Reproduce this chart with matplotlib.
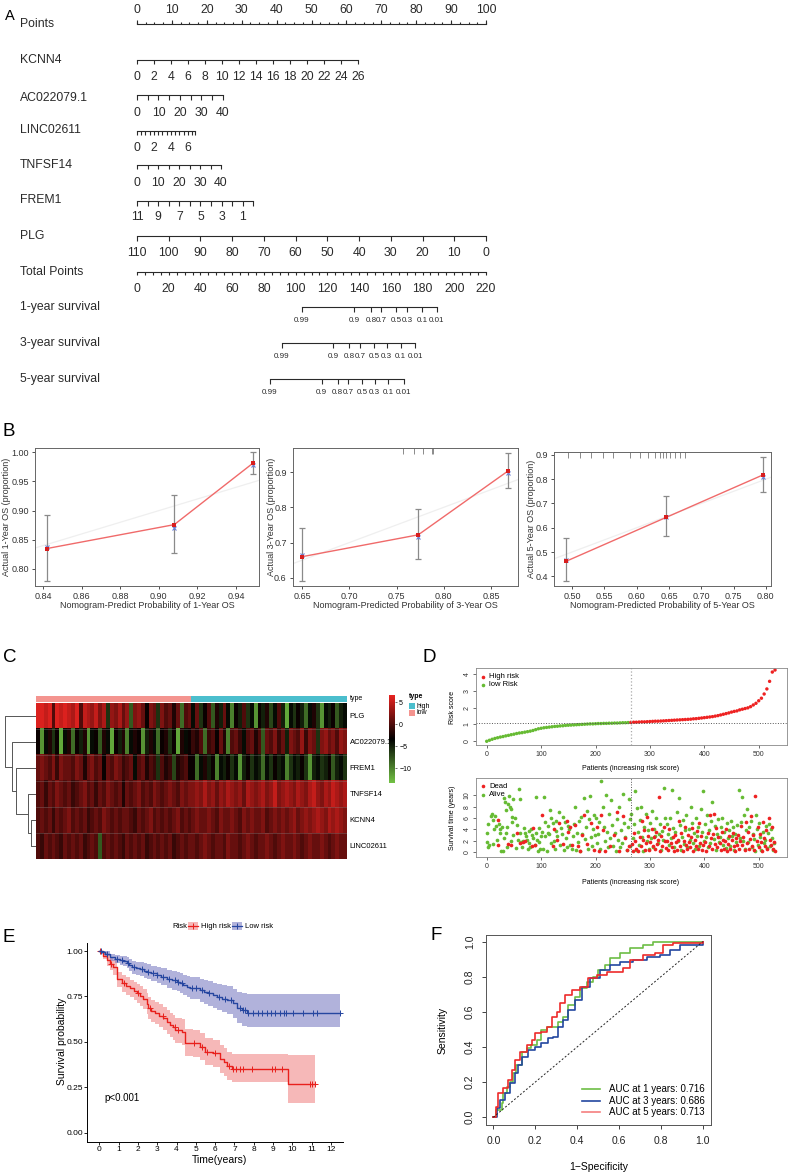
import numpy as np
import matplotlib
matplotlib.use('Agg')
import matplotlib.pyplot as plt
from matplotlib.colors import LinearSegmentedColormap, ListedColormap
from matplotlib.lines import Line2D
from matplotlib.patches import Rectangle

W, H = 788, 1176
plt.rcParams['font.family'] = ['Liberation Sans', 'DejaVu Sans']
NARROW = ['Liberation Sans Narrow', 'Liberation Sans', 'DejaVu Sans']

# ---------------- data ----------------
# A: nomogram scales (values and the points they are worth)
points_ticks = np.arange(0, 101, 2.5)
points_labels = np.arange(0, 101, 10)
kcnn4_vals = np.arange(0, 27, 2)
kcnn4_pts_per_unit = 63.3 / 26
ac022079_vals = np.arange(0, 41, 5)
ac022079_pts_per_unit = 24.6 / 40
linc02611_vals = np.append(np.arange(0, 6.6, 0.5), 6.8)
linc02611_pts_per_unit = 2.435
tnfsf14_vals = np.arange(0, 41, 5)
tnfsf14_pts_per_unit = 24.07 / 40
frem1_vals = np.arange(11, -1, -1)
frem1_pts_per_unit = 3.03
plg_vals = np.arange(110, -1, -10)
plg_pts_per_unit = 100 / 110
total_ticks = np.arange(0, 221, 5)
total_labels = np.arange(0, 221, 20)
surv_labels = ['0.99', '0.9', '0.8', '0.7', '0.5', '0.3', '0.1', '0.01']
surv1_total = [104.0, 136.8, 147.5, 153.8, 163.3, 170.2, 179.7, 189.1]
surv3_total = [91.4, 123.7, 133.8, 140.6, 149.4, 157.4, 166.2, 175.4]
surv5_total = [83.8, 116.4, 126.5, 133.2, 142.0, 149.8, 158.4, 168.3]

# B: calibration curves
cal1_pred = [0.842, 0.908, 0.949]
cal1_obs = [0.835, 0.876, 0.982]
cal1_corr = [0.838, 0.870, 0.978]
cal1_lo = [0.780, 0.827, 0.963]
cal1_hi = [0.893, 0.927, 1.000]
cal3_pred = [0.650, 0.773, 0.868]
cal3_obs = [0.660, 0.722, 0.903]
cal3_corr = [0.665, 0.716, 0.898]
cal3_lo = [0.590, 0.653, 0.855]
cal3_hi = [0.741, 0.795, 0.954]
cal3_rug = [0.757, 0.768, 0.778, 0.788, 0.789]
cal5_pred = [0.490, 0.646, 0.795]
cal5_obs = [0.461, 0.643, 0.817]
cal5_corr = [0.468, 0.645, 0.810]
cal5_lo = [0.380, 0.568, 0.746]
cal5_hi = [0.556, 0.730, 0.893]
cal5_rug = [0.494, 0.512, 0.530, 0.548, 0.564, 0.590, 0.605, 0.618, 0.628,
            0.636, 0.641, 0.646, 0.651, 0.659, 0.667, 0.675]

# C: heatmap (80 columns, first 40 low risk)
genes = ['PLG', 'AC022079.1', 'FREM1', 'TNFSF14', 'KCNN4', 'LINC02611']
sample_type = ['low'] * 40 + ['high'] * 40
expr_plg = [6, 6, 5, 6, 0, 6, 5, 6, 5, 4, 6, 0, 5, 4, 3, 5, 2, 4, -6, 3, 2, 4, 1, 3, -8, 2, 3, 1, -3, 2,
            1, -6, 2, 0, 1, -2, 1, -9, 0, 1, -4, 1, -6, -3, 0, -8, -2, -5, 1, -4, -10, -3, -5, 0, -6, -4,
            -11, -3, -5, -2, -7, -4, 0, -5, -12, -4, -6, -3, -5, -9, -4, -2, -6, -11, -4, -5, -3, -8, -5, -4]
expr_ac022079 = [-3, -11, -4, -2, -6, -3, -12, -4, -2, -9, -3, -5, -2, -11, -4, -3, -8, -2, -4, -12, -3, -5,
                 -2, -10, -4, -2, -3, -11, -5, -2, -4, -9, -3, -2, -6, -3, -12, -2, -4, -3, -1, -2, 0, -9,
                 -1, 0, -3, 1, -2, -10, 0, 1, -1, -4, 0, 1, -2, 0, -8, 1, 0, 2, -1, 1, -5, 2, 1, 0, 3, -1,
                 2, 1, -6, 2, 3, 1, 2, 0, 3, 2]
expr_frem1 = [1, 2, 1, 0, 2, -1, 2, 1, 1, 0, 2, 1, -2, 1, 2, 0, 1, -3, 1, 0, 2, 1, -1, 0, 1, -4, 0, 1, -2, 0,
              -1, -6, 0, -2, -1, -7, -2, -1, 0, -3, -3, -9, -4, -2, -5, -3, -10, -4, -5, -3, -6, -4, -11,
              -5, -3, -6, -4, -5, -9, -4, -6, -3, -5, -4, -10, -6, -4, -5, -3, -6, -11, -5, -4, -6, -5, -3,
              -8, -5, -4, -6]
expr_tnfsf14 = [0, 1, -1, 1, 0, 2, 1, 0, 1, -1, 0, 1, 2, 0, 1, -1, 1, 0, 2, 1, 0, 1, -2, 1, 0, 1, 2, 0, 1, 0,
                2, 1, 0, 1, 2, 1, 0, 2, 1, 2, 2, 3, 2, 4, 2, 3, 1, 3, 2, 4, 3, 2, 3, 1, 4, 3, 2, 3, 4, 2, 3,
                5, 2, 3, 4, 3, 2, 4, 3, 2, 4, 5, 3, 2, 4, 3, 5, 4, 3, 4]
expr_kcnn4 = [0, 1, 0, 1, -1, 1, 0, 1, 2, 0, 1, 0, 1, -1, 0, 1, 0, 2, 1, 0, 1, 0, 1, 1, 0, -1, 1, 0, 1, 2, 0,
              1, 0, 1, 0, 1, 2, 0, 1, 0, 1, 2, 1, 1, 2, 1, 0, 2, 1, 1, 2, 1, 0, 2, 1, 2, 1, 1, 2, 0, 1, 2, 1,
              2, 1, 2, 3, 1, 2, 3, 2, 3, 4, 3, 2, 4, 3, 4, 3, 2]
expr_linc02611 = [0, -1, 1, 0, 1, 0, -1, 1, 0, 1, 0, 1, -1, 0, 1, 0, -8, 0, 1, 0, 1, 0, -1, 1, 0, 1, 0, 1, -1,
                  0, 1, 0, 1, 0, 1, -1, 0, 1, 0, 1, 1, 0, 1, 2, 1, 0, 1, 1, 0, 2, 1, 1, 0, 1, 2, 1, 0, 1, 1,
                  2, 1, 0, 1, 2, 1, 1, 2, 1, 0, 1, 2, 1, 1, 2, 1, 0, 1, 2, 1, 1]
# row dendrogram merges: (left id, right id, height), new ids start at 6
dend_merges = [(4, 5, 5.3), (3, 6, 7.7), (2, 7, 20.0), (1, 8, 24.3), (0, 9, 31.0)]

# D: risk score per 5 patients, cutoff
risk_step = 5
risk_score = [0.00, 0.06, 0.12, 0.17, 0.21, 0.25, 0.28, 0.32, 0.35, 0.39, 0.42, 0.46, 0.49, 0.51, 0.54,
              0.57, 0.60, 0.64, 0.69, 0.74, 0.77, 0.80, 0.82, 0.84, 0.86, 0.88, 0.89, 0.91, 0.92, 0.94,
              0.95, 0.96, 0.97, 0.98, 0.99, 1.00, 1.01, 1.02, 1.03, 1.03, 1.04, 1.05, 1.05, 1.06, 1.06,
              1.07, 1.07, 1.08, 1.08, 1.09, 1.10, 1.10, 1.11, 1.12, 1.13, 1.13, 1.14, 1.15, 1.15, 1.16,
              1.17, 1.18, 1.19, 1.19, 1.20, 1.21, 1.22, 1.23, 1.24, 1.25, 1.26, 1.27, 1.28, 1.29, 1.30,
              1.31, 1.33, 1.34, 1.36, 1.38, 1.40, 1.42, 1.44, 1.46, 1.49, 1.52, 1.56, 1.60, 1.64, 1.68,
              1.73, 1.77, 1.80, 1.86, 1.90, 1.94, 1.98, 2.05, 2.15, 2.25, 2.40, 2.55, 2.80, 3.10, 3.55,
              4.10, 4.22]
risk_cut_patient = 265
risk_cut_score = 1.10

dead_x = [20, 21, 39, 45, 56, 62, 66, 70, 83, 85, 89, 102, 122, 124, 129, 133, 141, 147, 150, 153, 157,
          163, 167, 171, 175, 179, 185, 191, 197, 202, 206, 210, 214, 218, 226, 234, 240, 244, 250, 254,
          258, 262, 267, 269, 271, 273, 275, 279, 281, 283, 285, 287, 289, 291, 293, 295, 297, 299, 301,
          303, 305, 307, 309, 311, 313, 315, 317, 319, 321, 323, 325, 327, 329, 332, 334, 336, 338, 340,
          342, 344, 346, 348, 350, 352, 354, 356, 358, 360, 362, 364, 366, 368, 370, 372, 374, 376, 378,
          380, 382, 384, 386, 388, 390, 392, 394, 396, 398, 402, 404, 406, 408, 410, 412, 414, 416, 418,
          420, 422, 424, 426, 428, 430, 432, 434, 436, 438, 440, 442, 444, 446, 448, 450, 452, 454, 456,
          458, 460, 462, 464, 466, 468, 470, 472, 474, 476, 478, 480, 482, 484, 486, 488, 490, 492, 494,
          496, 498, 500, 502, 504, 506, 508, 510, 512, 514, 516, 518, 520, 522, 524, 526, 528, 530]
dead_y = [5.7, 1.2, 1.4, 1.3, 3.3, 1.5, 1.8, 1.9, 1.0, 4.2, 1.3, 6.6, 1.1, 4.1, 2.2, 5.1, 1.4, 5.4, 3.6,
          4.4, 1.3, 4.8, 1.0, 0.2, 3.0, 6.6, 1.4, 5.1, 0.3, 4.5, 0.2, 6.5, 3.9, 0.1, 1.0, 3.0, 7.1, 0.1,
          6.4, 2.4, 0.4, 1.0, 1.4, 0.1, 3.3, 1.9, 0.6, 0.1, 2.6, 1.0, 5.5, 2.2, 3.8, 0.4, 1.6, 6.2, 2.8,
          0.3, 1.8, 4.1, 1.0, 2.6, 0.5, 3.5, 1.4, 2.2, 9.8, 0.2, 2.9, 1.1, 4.5, 2.0, 0.7, 2.0, 0.3, 4.0,
          1.5, 0.9, 2.6, 0.1, 3.0, 1.7, 0.4, 2.2, 5.4, 1.0, 3.4, 0.2, 2.0, 4.5, 1.3, 0.5, 3.0, 1.8, 0.8,
          2.6, 4.3, 0.1, 2.2, 1.0, 3.7, 0.6, 5.2, 1.6, 2.9, 0.3, 1.2, 1.7, 0.2, 3.4, 1.0, 6.6, 2.4, 0.5,
          3.1, 6.8, 1.4, 4.2, 0.8, 2.7, 1.6, 0.4, 3.6, 2.2, 0.6, 1.9, 4.0, 0.2, 1.4, 2.8, 0.5, 2.1, 3.4,
          1.0, 0.2, 2.4, 1.3, 3.0, 0.6, 1.9, 4.6, 1.2, 2.7, 0.3, 5.3, 1.5, 3.6, 0.6, 2.3, 6.3, 1.0, 3.0,
          0.4, 9.9, 2.0, 4.4, 0.8, 3.2, 1.8, 0.2, 5.3, 2.5, 1.0, 3.9, 0.5, 6.1, 2.1, 1.2, 4.4, 0.6, 1.8,
          0.2]
alive_x = [0, 1, 3, 3, 5, 7, 9, 11, 12, 13, 15, 17, 18, 22, 24, 25, 27, 28, 30, 31, 32, 34, 35, 36, 37,
           38, 40, 41, 43, 44, 45, 46, 47, 48, 49, 52, 54, 56, 58, 60, 61, 62, 63, 64, 66, 68, 70, 72, 74,
           75, 77, 78, 80, 82, 84, 86, 88, 90, 91, 93, 94, 96, 97, 98, 99, 101, 103, 105, 107, 108, 110,
           112, 113, 115, 116, 118, 119, 121, 123, 125, 127, 128, 130, 132, 134, 136, 138, 140, 142, 144,
           146, 148, 149, 152, 154, 156, 158, 160, 162, 164, 166, 168, 170, 172, 174, 176, 178, 180, 182,
           184, 186, 188, 190, 192, 194, 196, 198, 199, 201, 203, 205, 207, 209, 211, 213, 215, 217, 219,
           221, 223, 225, 227, 229, 231, 233, 235, 237, 239, 241, 243, 245, 247, 249, 251, 253, 255, 257,
           259, 261, 263, 264, 266, 268, 270, 272, 274, 276, 278, 280, 282, 284, 286, 288, 290, 292, 294,
           296, 298, 300, 302, 304, 306, 308, 310, 312, 314, 316, 318, 320, 322, 324, 326, 328, 331, 333,
           335, 337, 339, 341, 343, 345, 347, 349, 351, 353, 355, 357, 359, 361, 363, 365, 367, 369, 371,
           373, 375, 377, 379, 381, 383, 385, 387, 389, 391, 393, 395, 397, 399, 401, 403, 405, 407, 409,
           411, 413, 415, 417, 419, 421, 423, 425, 427, 429, 431, 433, 435, 437, 439, 441, 443, 445, 447,
           449, 451, 453, 455, 457, 459, 461, 463, 465, 467, 469, 471, 473, 475, 477, 479, 481, 483, 485,
           487, 489, 491, 493, 495, 497, 499, 501, 503, 505, 507, 509, 511, 513, 515, 517, 519, 521, 523,
           525, 527, 529]
alive_y = [3.4, 1.8, 4.9, 0.8, 1.2, 6.4, 6.7, 5.6, 1.4, 4.0, 6.4, 4.6, 2.2, 5.0, 4.1, 3.3, 0.1, 4.5, 0.1,
           2.4, 9.6, 8.9, 7.5, 3.3, 0.9, 4.4, 8.5, 9.9, 8.0, 7.6, 1.9, 6.2, 5.3, 9.3, 3.0, 6.0, 0.7, 4.8,
           2.2, 11.1, 3.3, 9.4, 1.8, 0.8, 2.0, 4.3, 3.3, 2.8, 2.1, 0.5, 3.7, 1.5, 0.9, 4.0, 3.0, 2.5, 1.2,
           3.4, 9.8, 2.2, 0.2, 1.8, 4.3, 0.5, 2.9, 3.5, 0.6, 9.7, 2.8, 5.3, 0.1, 3.4, 4.6, 3.2, 7.5, 1.6,
           6.1, 5.1, 2.0, 0.5, 3.7, 5.5, 2.8, 7.1, 1.2, 4.2, 3.1, 6.2, 0.3, 5.3, 2.5, 0.8, 4.6, 4.0, 1.2,
           0.5, 2.9, 4.9, 8.0, 0.3, 3.3, 1.7, 5.5, 0.1, 6.2, 3.1, 9.5, 2.3, 4.4, 7.2, 0.6, 5.8, 9.9, 2.7,
           1.0, 4.1, 6.5, 3.0, 6.0, 1.5, 3.1, 5.3, 0.5, 12.5, 8.0, 4.5, 2.0, 10.1, 3.6, 0.8, 6.7, 2.5,
           9.2, 4.7, 1.1, 3.4, 0.2, 5.9, 2.1, 8.0, 0.9, 3.8, 1.5, 10.3, 5.2, 2.7, 0.4, 4.4, 9.3, 1.1, 5.9,
           6.7, 2.4, 4.9, 10.8, 0.3, 7.8, 3.5, 1.2, 5.7, 8.0, 2.7, 0.2, 4.4, 6.7, 1.9, 3.8, 0.6, 5.2, 2.5,
           7.2, 0.9, 4.0, 2.8, 6.1, 1.5, 3.2, 5.0, 0.4, 3.7, 2.1, 11.3, 6.0, 4.9, 3.1, 1.2, 6.1, 2.4, 10.9,
           4.2, 0.8, 3.5, 7.1, 1.9, 9.6, 4.7, 0.3, 2.6, 5.6, 1.4, 3.8, 6.5, 0.9, 4.1, 2.2, 8.0, 5.2, 1.6,
           3.3, 0.5, 6.0, 2.8, 4.5, 1.1, 7.6, 3.6, 10.8, 2.0, 4.9, 2.7, 6.6, 0.9, 3.9, 1.5, 5.4, 8.9, 2.3,
           4.6, 0.4, 3.1, 5.8, 1.8, 2.6, 4.4, 6.0, 1.2, 3.6, 0.7, 5.2, 2.4, 3.9, 1.0, 5.5, 2.9, 4.5, 0.3,
           3.2, 1.7, 4.8, 10.9, 2.5, 5.3, 9.7, 2.0, 6.5, 0.5, 3.9, 7.6, 1.8, 4.4, 5.5, 0.9, 3.1, 2.3, 0.1,
           6.6, 4.0, 1.2, 5.1, 2.7, 0.4, 3.5, 1.6, 2.2, 4.6, 0.7, 3.3, 5.0, 1.1, 4.1, 2.4, 0.3, 1.5]

# E: Kaplan-Meier steps (time, survival, 95% CI)
high_t = [0, 0.2, 0.38, 0.55, 0.73, 0.93, 1.16, 1.4, 1.59, 1.8, 1.94, 2.1, 2.28, 2.45, 2.54, 2.7, 2.89,
          3.1, 3.32, 3.5, 3.67, 3.8, 3.93, 4.27, 4.44, 4.88, 5.22, 5.48, 5.91, 6.26, 6.45, 6.61, 6.86, 9.8]
high_s = [1.0, 0.975, 0.95, 0.93, 0.91, 0.844, 0.822, 0.81, 0.795, 0.78, 0.767, 0.752, 0.736, 0.71,
          0.684, 0.67, 0.657, 0.645, 0.629, 0.61, 0.593, 0.58, 0.565, 0.556, 0.497, 0.492, 0.473, 0.446,
          0.437, 0.405, 0.39, 0.369, 0.354, 0.268]
high_lo = [1.0, 0.955, 0.92, 0.895, 0.87, 0.8, 0.775, 0.76, 0.745, 0.728, 0.713, 0.697, 0.68, 0.652,
           0.625, 0.61, 0.596, 0.582, 0.565, 0.545, 0.527, 0.512, 0.496, 0.486, 0.425, 0.42, 0.4, 0.372,
           0.362, 0.33, 0.313, 0.292, 0.278, 0.165]
high_hi = [1.0, 0.995, 0.98, 0.962, 0.948, 0.886, 0.866, 0.856, 0.843, 0.83, 0.818, 0.805, 0.79, 0.768,
           0.745, 0.732, 0.72, 0.708, 0.693, 0.675, 0.66, 0.648, 0.634, 0.626, 0.57, 0.565, 0.548, 0.522,
           0.513, 0.482, 0.467, 0.447, 0.433, 0.427]
high_end = 11.19
high_cens = [0.05, 0.6, 1.3, 2.0, 2.6, 3.3, 3.9, 4.1, 4.9, 5.3, 5.6, 6.0, 6.7, 6.95, 7.1, 7.3, 7.45, 7.9,
             8.95, 9.1, 9.45, 10.9, 11.0, 11.19]
low_t = [0, 0.15, 0.3, 0.55, 0.8, 1.07, 1.25, 1.42, 1.55, 1.68, 1.9, 2.11, 2.3, 2.46, 2.7, 2.97, 3.2,
         3.49, 3.75, 4.01, 4.2, 4.36, 4.55, 4.7, 5.22, 5.45, 5.65, 5.9, 6.09, 6.35, 6.61, 6.95, 7.12,
         7.4, 7.64]
low_s = [1.0, 0.993, 0.985, 0.965, 0.958, 0.95, 0.943, 0.936, 0.922, 0.91, 0.905, 0.899, 0.892, 0.886,
         0.877, 0.868, 0.858, 0.846, 0.839, 0.831, 0.822, 0.813, 0.804, 0.795, 0.785, 0.776, 0.767, 0.756,
         0.745, 0.738, 0.73, 0.712, 0.688, 0.675, 0.66]
low_lo = [1.0, 0.985, 0.972, 0.945, 0.935, 0.925, 0.915, 0.906, 0.89, 0.876, 0.869, 0.861, 0.852, 0.845,
          0.834, 0.823, 0.811, 0.797, 0.788, 0.778, 0.767, 0.756, 0.745, 0.734, 0.722, 0.711, 0.7, 0.686,
          0.673, 0.664, 0.654, 0.632, 0.603, 0.588, 0.58]
low_hi = [1.0, 1.0, 0.998, 0.985, 0.98, 0.975, 0.97, 0.965, 0.954, 0.944, 0.94, 0.937, 0.932, 0.927,
          0.92, 0.913, 0.905, 0.895, 0.89, 0.884, 0.877, 0.87, 0.863, 0.856, 0.848, 0.841, 0.834, 0.826,
          0.817, 0.811, 0.806, 0.79, 0.775, 0.768, 0.765]
low_end = 12.48
low_cens = [0.1, 0.4, 0.9, 1.2, 1.5, 1.8, 2.2, 2.5, 2.8, 3.0, 3.3, 3.6, 3.9, 4.1, 4.3, 4.8, 5.0, 5.3, 5.7,
            6.2, 6.5, 6.8, 7.3, 7.45, 7.55, 7.7, 7.95, 8.2, 8.45, 8.7, 8.9, 9.1, 9.35, 9.55, 9.65, 10.05,
            10.55, 11.1, 11.3, 12.48]

# F: time-dependent ROC
roc1_fpr = [0, 0.013, 0.04, 0.048, 0.064, 0.08, 0.096, 0.11, 0.135, 0.16, 0.18, 0.207, 0.23, 0.255,
            0.287, 0.31, 0.334, 0.358, 0.39, 0.414, 0.446, 0.478, 0.502, 0.533, 0.557, 0.605, 0.653,
            0.717, 0.764, 1.0]
roc1_tpr = [0, 0.042, 0.08, 0.137, 0.175, 0.203, 0.25, 0.298, 0.374, 0.393, 0.412, 0.44, 0.497, 0.516,
            0.516, 0.545, 0.573, 0.64, 0.687, 0.734, 0.772, 0.80, 0.839, 0.867, 0.905, 0.934, 0.962,
            0.981, 1.0, 1.0]
roc3_fpr = [0, 0.016, 0.032, 0.056, 0.08, 0.103, 0.119, 0.135, 0.167, 0.2, 0.23, 0.263, 0.287, 0.31,
            0.334, 0.358, 0.39, 0.422, 0.462, 0.51, 0.557, 0.605, 0.669, 0.732, 0.796, 0.844, 0.892, 1.0]
roc3_tpr = [0, 0.051, 0.099, 0.137, 0.194, 0.25, 0.298, 0.345, 0.383, 0.402, 0.421, 0.45, 0.459, 0.516,
            0.554, 0.611, 0.668, 0.744, 0.791, 0.839, 0.867, 0.886, 0.896, 0.915, 0.924, 0.953, 0.981, 1.0]
roc5_fpr = [0, 0.013, 0.024, 0.048, 0.072, 0.088, 0.103, 0.127, 0.16, 0.183, 0.2, 0.23, 0.255, 0.279,
            0.303, 0.318, 0.342, 0.374, 0.414, 0.454, 0.494, 0.541, 0.621, 0.653, 0.717, 0.772, 0.812,
            0.86, 1.0]
roc5_tpr = [0, 0.061, 0.137, 0.165, 0.213, 0.269, 0.326, 0.374, 0.412, 0.44, 0.478, 0.488, 0.516, 0.573,
            0.602, 0.649, 0.696, 0.725, 0.744, 0.791, 0.81, 0.829, 0.848, 0.896, 0.924, 0.934, 0.981,
            0.99, 1.0]
roc_auc = [0.716, 0.686, 0.713]
roc_years = [1, 3, 5]

# ---------------- figure ----------------
fig = plt.figure(figsize=(W / 100, H / 100), dpi=100)


def px_axes(x0, y0, x1, y1):
    return fig.add_axes([x0 / W, 1 - y1 / H, (x1 - x0) / W, (y1 - y0) / H])


def ftext(x, y, s, **kw):
    kw.setdefault('ha', 'center')
    kw.setdefault('va', 'center')
    fig.text(x / W, 1 - y / H, s, **kw)


def r_box(ax, lw=0.7, color='#444444'):
    for sp in ax.spines.values():
        sp.set_linewidth(lw)
        sp.set_color(color)


# panel letters
ftext(5, 16, 'A', fontsize=10.5, ha='left')
for letter, x, y in [('B', 3, 432), ('C', 3, 657), ('D', 423, 657), ('E', 3, 937), ('F', 431, 935)]:
    ftext(x, y, letter, fontsize=13.5, ha='left')

# ---- A: nomogram ----
PX_PER_PT = 3.49
X0 = 137
axA = px_axes(0, 0, W, 410)
axA.set_xlim(-X0 / PX_PER_PT, (W - X0) / PX_PER_PT)
axA.set_ylim(410, 0)
axA.axis('off')
ink = '#2a2a2a'
FS_A = 8.8


def nomo_scale(name, name_y, line_y, tick_pts, lab_pts, labels, lab_y, tick_len=4.5, fs=FS_A):
    axA.plot([min(tick_pts), max(tick_pts)], [line_y, line_y], color=ink, lw=0.8)
    axA.vlines(tick_pts, line_y, line_y + tick_len, color=ink, lw=0.8)
    for p, s in zip(lab_pts, labels):
        axA.text(p, lab_y, s, ha='center', va='center', fontsize=fs, family=NARROW, color=ink)
    axA.text(20 / W, name_y, name, transform=axA.get_yaxis_transform(), ha='left', va='center',
             fontsize=FS_A, family=NARROW, color=ink)


def fmt(v):
    return f'{v:g}'


# Points scale: ticks point upward, long ticks at labels
axA.plot([0, 100], [24, 24], color=ink, lw=0.8)
axA.vlines(points_ticks, 24, 21.5, color=ink, lw=0.8)
axA.vlines(points_labels, 24, 19.5, color=ink, lw=0.8)
for p in points_labels:
    axA.text(p, 10, fmt(p), ha='center', va='center', fontsize=FS_A, family=NARROW, color=ink)
axA.text(20 / W, 24, 'Points', transform=axA.get_yaxis_transform(), ha='left', va='center',
         fontsize=FS_A, family=NARROW, color=ink)

k_pts = kcnn4_vals * kcnn4_pts_per_unit
nomo_scale('KCNN4', 60, 59.5, k_pts, k_pts, [fmt(v) for v in kcnn4_vals], 77.5)
a_pts = ac022079_vals * ac022079_pts_per_unit
nomo_scale('AC022079.1', 98, 95, a_pts, a_pts[::2], [fmt(v) for v in ac022079_vals[::2]], 113)
l_pts = linc02611_vals * linc02611_pts_per_unit
l_lab = [0, 2, 4, 6]
nomo_scale('LINC02611', 130, 131, l_pts, np.array(l_lab) * linc02611_pts_per_unit,
           [str(v) for v in l_lab], 148, tick_len=3.5)
t_pts = tnfsf14_vals * tnfsf14_pts_per_unit
nomo_scale('TNFSF14', 165, 164.5, t_pts, t_pts[::2], [fmt(v) for v in tnfsf14_vals[::2]], 182.5)
f_pts = (11 - frem1_vals) * frem1_pts_per_unit
nomo_scale('FREM1', 200, 201, f_pts, f_pts[::2][:6], [fmt(v) for v in frem1_vals[::2][:6]], 217.5)
p_pts = (110 - plg_vals) * plg_pts_per_unit
nomo_scale('PLG', 236, 236, p_pts, p_pts, [fmt(v) for v in plg_vals], 253.5)
tp_pts = total_ticks * 100 / 220
nomo_scale('Total Points', 272, 271.7, tp_pts, total_labels * 100 / 220, [fmt(v) for v in total_labels],
           289.5, tick_len=3.5)
for name, y, tot in [('1-year survival', 307, surv1_total), ('3-year survival', 343, surv3_total),
                     ('5-year survival', 379, surv5_total)]:
    sp = np.array(tot) * 100 / 220
    nomo_scale(name, y, y, sp, sp, surv_labels, y + 13.5, tick_len=4.5, fs=5.8)

# ---- B: calibration plots ----
cal_sets = [
    ((35, 448, 259, 586), cal1_pred, cal1_obs, cal1_corr, cal1_lo, cal1_hi, None,
     (0.8359, 0.9519), (0.7708, 1.0074), np.arange(0.84, 0.941, 0.02), np.arange(0.80, 1.001, 0.05),
     'Nomogram-Predict Probability of 1-Year OS', 'Actual 1-Year OS (proportion)', '{:.2f}', '{:.2f}', 7),
    ((293, 448, 518, 586), cal3_pred, cal3_obs, cal3_corr, cal3_lo, cal3_hi, cal3_rug,
     (0.6405, 0.8785), (0.577, 0.968), np.arange(0.65, 0.851, 0.05), np.arange(0.6, 0.91, 0.1),
     'Nomogram-Predicted Probability of 3-Year OS', 'Actual 3-Year OS (proportion)', '{:.2f}', '{:.1f}', 272),
    ((554, 452, 771, 586), cal5_pred, cal5_obs, cal5_corr, cal5_lo, cal5_hi, cal5_rug,
     (0.472, 0.808), (0.36, 0.912), np.arange(0.50, 0.801, 0.05), np.arange(0.4, 0.91, 0.1),
     'Nomogram-Predicted Probability of 5-Year OS', 'Actual 5-Year OS (proportion)', '{:.2f}', '{:.1f}', 532),
]
for (box, pred, obs, corr, lo, hi, rug, xl, yl, xt, yt, xlab, ylab, xf, yf, ylab_x) in cal_sets:
    ax = px_axes(*box)
    ax.set_xlim(*xl)
    ax.set_ylim(*yl)
    ax.plot(xl, xl, color='#efefef', lw=0.9)
    ax.errorbar(pred, obs, yerr=[np.array(obs) - np.array(lo), np.array(hi) - np.array(obs)], fmt='none',
                ecolor='#8a8a8a', elinewidth=0.9, capsize=2.2, capthick=0.9)
    ax.plot(pred, obs, color='#f06a6a', lw=1.0)
    ax.plot(pred, corr, 'x', color='#6a7fd8', ms=2.6, mew=0.8)
    ax.plot(pred, obs, 's', color='#d81e1e', ms=2.2, mew=0)
    if rug is not None:
        ax.vlines(rug, 1, 0.955, transform=ax.get_xaxis_transform(), color='#777777', lw=0.6)
    ax.set_xticks(xt)
    ax.set_xticklabels([xf.format(v) for v in xt])
    ax.set_yticks(yt)
    ax.set_yticklabels([yf.format(v) for v in yt])
    ax.tick_params(labelsize=6.5, length=2.5, width=0.6, pad=2, colors='#333333')
    r_box(ax, color='#666666')
    ftext((box[0] + box[2]) / 2, 606, xlab, fontsize=6.5, color='#333333')
    ftext(ylab_x, (box[1] + box[3]) / 2, ylab, fontsize=6.5, color='#333333', rotation=90)

# ---- C: heatmap ----
expr = np.array([expr_plg, expr_ac022079, expr_frem1, expr_tnfsf14, expr_kcnn4, expr_linc02611], float)
gbr = LinearSegmentedColormap.from_list('gbr', ['#72c244', '#000000', '#e82320'])
vmin, vmax = -13.4, 6.6
axH = px_axes(36, 703, 347, 859.5)
im = axH.imshow(expr, cmap=gbr, vmin=vmin, vmax=vmax, aspect='auto', interpolation='nearest')
for b in np.arange(0.5, len(genes) - 1, 1):
    axH.axhline(b, color='#8a8a8a', lw=0.4, alpha=0.6)
axH.set_xticks([])
axH.set_yticks([])
for sp in axH.spines.values():
    sp.set_visible(False)
for i, g in enumerate(genes):
    axH.text(1.008, 1 - (i + 0.5) / len(genes), g, transform=axH.transAxes, fontsize=5.5, va='center')

axT = px_axes(36, 695.5, 347, 701.5)
type_colors = {'low': '#f4948f', 'high': '#4bbecd'}
axT.imshow(np.array([[0 if t == 'low' else 1 for t in sample_type]]),
           cmap=ListedColormap([type_colors['low'], type_colors['high']]), vmin=0, vmax=1,
           aspect='auto', interpolation='nearest')
axT.axis('off')
ftext(350, 699, 'type', fontsize=5, ha='left')

# dendrogram
axD = px_axes(4, 703, 36, 859.5)
pos = {i: i for i in range(len(genes))}
hgt = {i: 0.0 for i in range(len(genes))}
for k, (a, b, h) in enumerate(dend_merges):
    axD.plot([hgt[a], h, h, hgt[b]], [pos[a], pos[a], pos[b], pos[b]], color='#555555', lw=0.7)
    pos[len(genes) + k] = (pos[a] + pos[b]) / 2
    hgt[len(genes) + k] = h
axD.set_xlim(32, 0)
axD.set_ylim(len(genes) - 0.5, -0.5)
axD.axis('off')

# colour key and legend
cax = px_axes(389, 695, 395, 783)
cb = fig.colorbar(im, cax=cax, ticks=[5, 0, -5, -10])
cb.outline.set_visible(False)
cb.ax.tick_params(labelsize=5, length=1.5, width=0.4, pad=1.5)
ftext(409, 697, 'type', fontsize=5, ha='left', weight='bold')
for lab, y in [('high', 706), ('low', 712.5)]:
    fig.add_artist(Rectangle((409 / W, 1 - (y + 3) / H), 6 / W, 6 / H, transform=fig.transFigure,
                             color=type_colors[lab], lw=0))
    ftext(417, y, lab, fontsize=5, ha='left')

# ---- D: risk plot ----
green, red = '#66bb33', '#ee2222'
patients = np.arange(len(risk_score)) * risk_step
risk_col = [green if p < risk_cut_patient else red for p in patients]
axR = px_axes(476, 668, 787, 745)
axR.scatter(patients, risk_score, c=risk_col, s=6, lw=0)
axR.axvline(risk_cut_patient, color='#aaaaaa', ls=':', lw=0.9)
axR.axhline(risk_cut_score, color='#555555', ls=':', lw=0.7)
axR.set_xlim(-19.7, 552)
axR.set_ylim(-0.22, 4.34)
axR.set_yticks(range(0, 5))
axR.set_xticks(range(0, 501, 100))
ftext(631, 768, 'Patients (increasing risk score)', fontsize=5)
ftext(452, 707, 'Risk score', fontsize=5, rotation=90)
for lab, col, y in [('High risk', red, 676.5), ('low Risk', green, 685)]:
    fig.add_artist(Line2D([482.5 / W], [1 - y / H], marker='o', ms=2.6, color=col, mew=0, ls=''))
    ftext(489, y, lab, fontsize=5.5, ha='left')

axS = px_axes(476, 778, 787, 857)
axS.scatter(alive_x, alive_y, c=green, s=7, lw=0)
axS.scatter(dead_x, dead_y, c=red, s=7, lw=0)
axS.axvline(risk_cut_patient, color='#555555', ls=':', lw=0.7)
axS.set_xlim(-19.7, 552)
axS.set_ylim(-0.9, 13.1)
axS.set_yticks(range(0, 11, 2))
axS.set_xticks(range(0, 501, 100))
ftext(631, 883, 'Patients (increasing risk score)', fontsize=5)
ftext(452, 818, 'Survival time (years)', fontsize=5, rotation=90)
for lab, col, y in [('Dead', red, 786), ('Alive', green, 794.5)]:
    fig.add_artist(Line2D([482.5 / W], [1 - y / H], marker='o', ms=2.6, color=col, mew=0, ls=''))
    ftext(489, y, lab, fontsize=5.5, ha='left')
for ax in (axR, axS):
    ax.tick_params(labelsize=5, length=2, width=0.5, pad=2, colors='#333333')
    for t in ax.get_yticklabels():
        t.set_rotation(90)
        t.set_va('center')
    r_box(ax, lw=0.6, color='#888888')

# ---- E: Kaplan-Meier ----
axE = px_axes(87, 943, 343, 1142)
km_red, km_blue = '#e8201c', '#2646a0'
for t, s, lo, hi, end, cens, col, fill in [
        (high_t, high_s, high_lo, high_hi, high_end, high_cens, km_red, '#f08a8a'),
        (low_t, low_s, low_lo, low_hi, low_end, low_cens, km_blue, '#7d7fc4')]:
    tt = np.append(t, end)
    axE.fill_between(tt, np.append(lo, lo[-1]), np.append(hi, hi[-1]), step='post', color=fill,
                     alpha=0.6, lw=0)
    axE.step(tt, np.append(s, s[-1]), where='post', color=col, lw=1.0)
    idx = np.searchsorted(t, cens, side='right') - 1
    axE.plot(cens, np.array(s)[idx], '+', color=col, ms=4, mew=0.7)
axE.text(0.25, 0.19, 'p<0.001', fontsize=7, ha='left', va='center')
axE.set_xlim(-0.64, 12.63)
axE.set_ylim(-0.05, 1.044)
axE.set_xticks(range(0, 13))
axE.set_yticks([0, 0.25, 0.5, 0.75, 1.0])
axE.set_yticklabels(['0.00', '0.25', '0.50', '0.75', '1.00'])
axE.tick_params(labelsize=6, length=2, width=0.6, pad=1)
axE.spines[['top', 'right']].set_visible(False)
for sp in axE.spines.values():
    sp.set_linewidth(0.7)
ftext(220, 1160, 'Time(years)', fontsize=7.5)
ftext(62, 1041, 'Survival probability', fontsize=7.5, rotation=90)
ftext(172, 926, 'Risk', fontsize=5.5, ha='left')
for lab, col, fill, x0 in [('High risk', km_red, '#f08a8a', 188), ('Low risk', km_blue, '#7d7fc4', 232)]:
    fig.add_artist(Rectangle((x0 / W, 1 - 930 / H), 10 / W, 8 / H, transform=fig.transFigure,
                             color=fill, alpha=0.6, lw=0))
    fig.add_artist(Line2D([x0 / W, (x0 + 10) / W], [1 - 926 / H] * 2, color=col, lw=0.9))
    fig.add_artist(Line2D([(x0 + 5) / W], [1 - 926 / H], marker='+', ms=4, mew=0.7, color=col))
    ftext(x0 + 13.5, 926, lab, fontsize=5.5, ha='left')

# ---- F: ROC ----
axF = px_axes(486, 935, 711, 1125)
roc_cols = ['#6dbe45', '#2347a0', '#ee2b2b']
for fpr, tpr, col in zip([roc1_fpr, roc3_fpr, roc5_fpr], [roc1_tpr, roc3_tpr, roc5_tpr], roc_cols):
    axF.plot(fpr, tpr, color=col, lw=1.2, drawstyle='steps-post')
axF.plot([0, 1], [0, 1], color='#222222', ls=(0, (2, 2)), lw=0.7)
axF.set_xlim(-0.035, 1.04)
axF.set_ylim(-0.044, 1.038)
axF.set_xticks(np.arange(0, 1.01, 0.2))
axF.set_yticks(np.arange(0, 1.01, 0.2))
axF.set_xticklabels([f'{v:.1f}' for v in np.arange(0, 1.01, 0.2)])
axF.set_yticklabels([f'{v:.1f}' for v in np.arange(0, 1.01, 0.2)])
axF.tick_params(labelsize=7.5, length=3, width=0.6, pad=5, colors='#222222')
for t in axF.get_yticklabels():
    t.set_rotation(90)
    t.set_va('center')
r_box(axF, color='#555555')
ftext(599, 1167, '1\u2212Specificity', fontsize=7.5)
ftext(443, 1030, 'Sensitivity', fontsize=7.5, rotation=90)
for yr, auc, col, y, a in zip(roc_years, roc_auc, roc_cols, [1089, 1101, 1112], [1, 1, 0.6]):
    fig.add_artist(Line2D([582 / W, 600 / W], [1 - y / H] * 2, color=col, lw=1.2, alpha=a))
    ftext(609, y, f'AUC at {yr} years: {auc:.3f}', fontsize=7, ha='left')

fig.savefig('out.png', dpi=100)
